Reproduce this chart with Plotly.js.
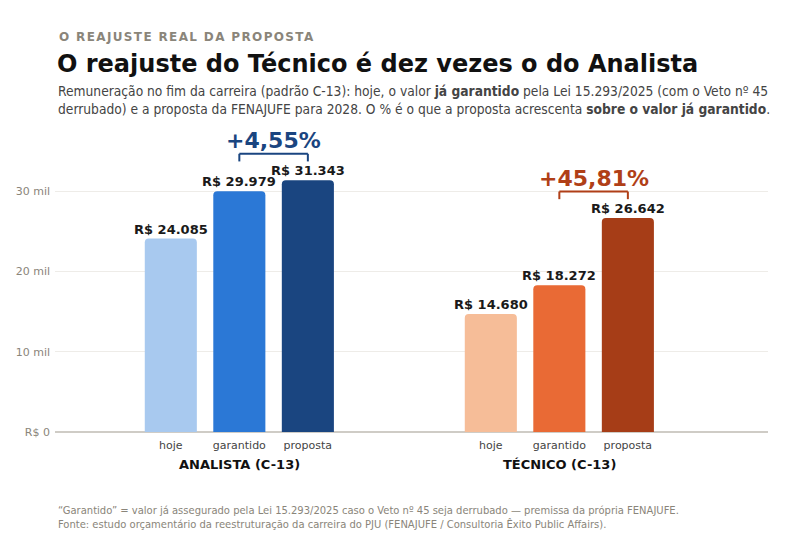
<!DOCTYPE html>
<html><head><meta charset="utf-8">
<script src="https://cdn.plot.ly/plotly-3.0.1.min.js"></script>
<style>body{margin:0;background:#fff}#chart{width:800px;height:544px}</style>
</head><body><div id="chart"></div>
<script>
// ---- data ----
const groups = ["ANALISTA (C-13)", "TÉCNICO (C-13)"];
const stages = ["hoje", "garantido", "proposta"];
const analistaValues = [24085, 29979, 31343];
const tecnicoValues = [14680, 18272, 26642];
const analistaColors = ["#a8c9ef", "#2b78d6", "#1a4580"];
const tecnicoColors = ["#f6bd98", "#e96a35", "#a63d17"];
const yTickVals = [0, 10000, 20000, 30000];
const yTickText = ["R$ 0", "10 mil", "20 mil", "30 mil"];

// ---- layout helpers ----
const groupOffsets = [0, 4.67];
const fmt = v => "R$ " + String(v).replace(/\B(?=(\d{3})+(?!\d))/g, ".");
const pct = (a, b) => "+" + ((b / a - 1) * 100).toFixed(2).replace(".", ",") + "%";

const seriesList = [
  {vals: analistaValues, colors: analistaColors, off: groupOffsets[0], pc: "#1a4580"},
  {vals: tecnicoValues, colors: tecnicoColors, off: groupOffsets[1], pc: "#b03f17"}
];

const traces = [];
const annotations = [];
const shapes = [];
const tickvals = [], ticktext = [];

seriesList.forEach((s, gi) => {
  const xs = stages.map((_, i) => s.off + i);
  traces.push({
    type: "bar", x: xs, y: s.vals,
    marker: {color: s.colors, line: {width: 0}},
    width: 0.76, hoverinfo: "skip", showlegend: false
  });
  xs.forEach((x, i) => {
    tickvals.push(x); ticktext.push(stages[i]);
    annotations.push({
      x: x, y: s.vals[i], xref: "x", yref: "y", text: "<b>" + fmt(s.vals[i]) + "</b>",
      showarrow: false, yanchor: "bottom", yshift: 0,
      font: {family: "DejaVu Sans", size: 13, color: "#1a1a1a"}
    });
  });
  // bracket between garantido and proposta
  const top = s.vals[2] + 3300, low = top - 950;
  const x1 = xs[1], x2 = xs[2];
  const ln = {color: s.pc, width: 2};
  shapes.push({type: "line", xref: "x", yref: "y", x0: x1, x1: x2, y0: top, y1: top, line: ln});
  shapes.push({type: "line", xref: "x", yref: "y", x0: x1, x1: x1, y0: top, y1: low, line: ln});
  shapes.push({type: "line", xref: "x", yref: "y", x0: x2, x1: x2, y0: top, y1: low, line: ln});
  annotations.push({
    x: (x1 + x2) / 2, y: top, xref: "x", yref: "y", text: "<b>" + pct(s.vals[1], s.vals[2]) + "</b>",
    showarrow: false, yanchor: "bottom", yshift: -1,
    font: {family: "DejaVu Sans", size: 22, color: s.pc}
  });
  // group label
  annotations.push({
    x: xs[1], y: 0, xref: "x", yref: "y", text: "<b>" + groups[gi] + "</b>",
    showarrow: false, yanchor: "middle", yshift: -32,
    font: {family: "DejaVu Sans", size: 13, color: "#111"}
  });
});

// header / footer text
const L = 55, W = 713, PT = 120, PH = 312;
const px = x => (x - L) / W;
const py = y => (PT + PH - y) / PH;
const KICKER = "O REAJUSTE REAL DA PROPOSTA";
annotations.push(
  {xref: "paper", yref: "paper", x: px(56), y: py(37), xanchor: "left", yanchor: "middle", showarrow: false,
   text: "<b>" + KICKER + "</b>", font: {family: "DejaVu Sans", size: 12, color: "#8a857a"}},
  {xref: "paper", yref: "paper", x: px(55), y: py(64), xanchor: "left", yanchor: "middle", showarrow: false,
   text: "<b>O reajuste do Técnico é dez vezes o do Analista</b>", font: {family: "DejaVu Sans", size: 24, color: "#111"}},
  {xref: "paper", yref: "paper", x: px(56), y: py(100), xanchor: "left", yanchor: "middle", showarrow: false, align: "left",
   text: "Remuneração no fim da carreira (padrão C-13): hoje, o valor <b>já garantido</b> pela Lei 15.293/2025 (com o Veto nº 45<br>derrubado) e a proposta da FENAJUFE para 2028. O % é o que a proposta acrescenta <b>sobre o valor já garantido</b>.",
   font: {family: "DejaVu Sans Condensed, DejaVu Sans", size: 13.7, color: "#444"}},
  {xref: "paper", yref: "paper", x: px(56), y: py(517), xanchor: "left", yanchor: "middle", showarrow: false, align: "left",
   text: "“Garantido” = valor já assegurado pela Lei 15.293/2025 caso o Veto nº 45 seja derrubado — premissa da própria FENAJUFE.<br>Fonte: estudo orçamentário da reestruturação da carreira do PJU (FENAJUFE / Consultoria Êxito Public Affairs).",
   font: {family: "DejaVu Sans Condensed, DejaVu Sans", size: 11.1, color: "#8a857a"}}
);

const layout = {
  width: 800, height: 544,
  margin: {l: L, r: 800 - L - W, t: PT, b: 544 - PT - PH, pad: 0},
  paper_bgcolor: "#fff", plot_bgcolor: "#fff",
  font: {family: "DejaVu Sans"},
  xaxis: {range: [-1.69, 8.715], tickvals: tickvals, ticktext: ticktext, showgrid: false, zeroline: false,
          showline: false, ticks: "", tickfont: {size: 11, color: "#444"}, ticklabelstandoff: 5, fixedrange: true},
  yaxis: {range: [0, 38850], tickvals: yTickVals, ticktext: yTickText, showgrid: true, gridcolor: "#eeece8",
          gridwidth: 1, zeroline: true, zerolinecolor: "#cfccc6", zerolinewidth: 2, ticks: "",
          tickfont: {size: 11, color: "#8a857a"}, ticklabelstandoff: 4, fixedrange: true},
  barcornerradius: 4,
  annotations: annotations, shapes: shapes, showlegend: false
};

Plotly.newPlot("chart", traces, layout, {staticPlot: true}).then(() => {
  document.querySelectorAll(".annotation-text").forEach(t => {
    if (t.textContent === KICKER) {
      const b0 = t.getBBox();
      const targetW = 255;
      const ls = (targetW - b0.width) / (KICKER.length - 1);
      t.style.letterSpacing = ls.toFixed(2) + "px";
      const b1 = t.getBBox();
      t.setAttribute("transform", "translate(" + (b0.x - b1.x + 1) + ",0)");
    }
  });
});
</script></body></html>
